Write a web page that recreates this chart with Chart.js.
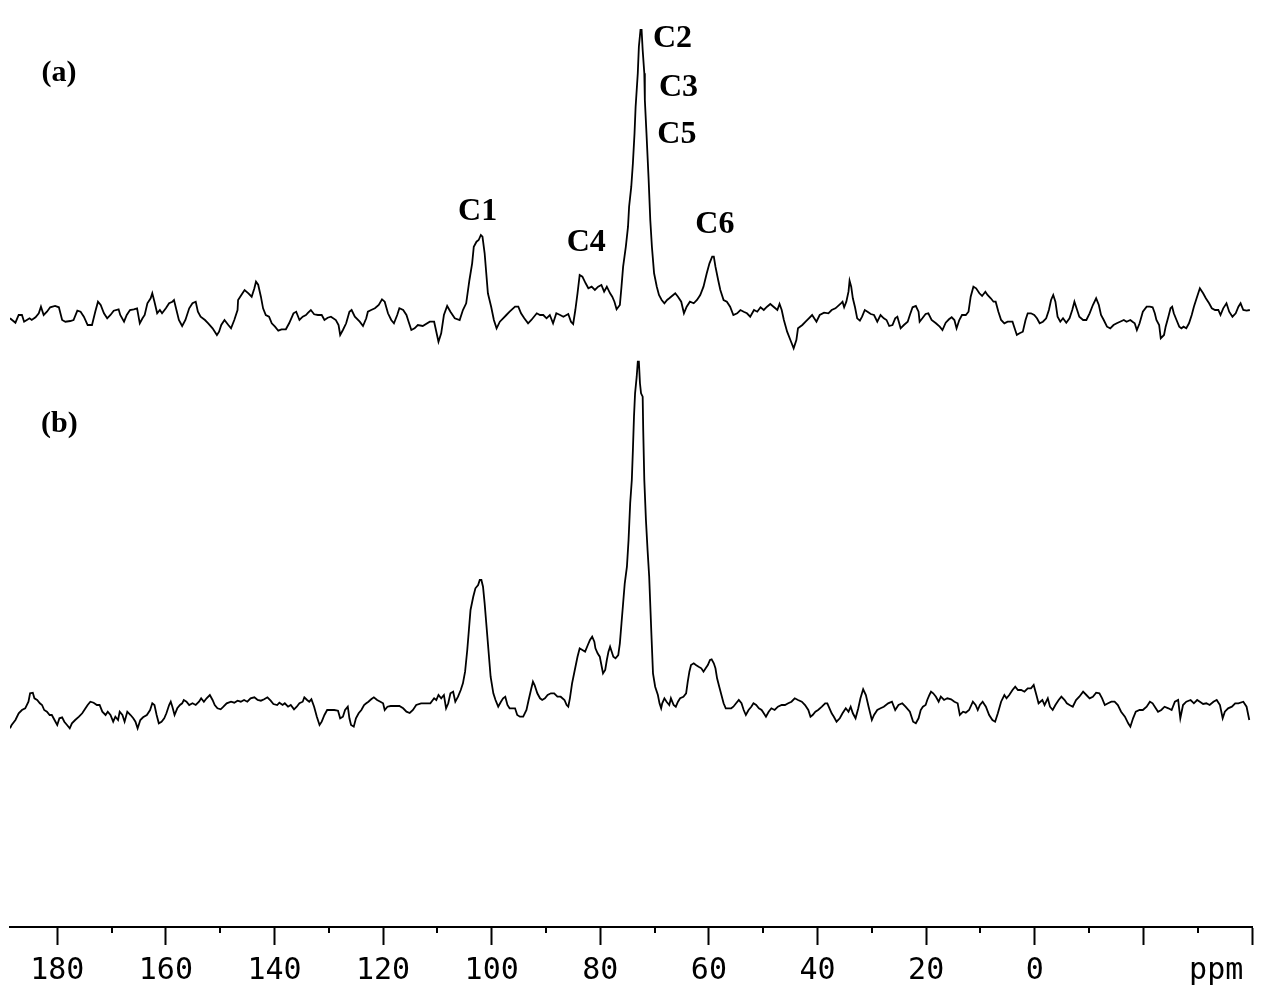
<!DOCTYPE html>
<html><head><meta charset="utf-8">
<script src="https://cdn.jsdelivr.net/npm/chart.js@4/dist/chart.umd.min.js"></script>
<style>html,body{margin:0;padding:0;background:#fff;}canvas{display:block;}</style>
</head><body>
<canvas id="c" width="1269" height="1000"></canvas>
<script>
// ---- Spectrum (a): chemical shift (ppm) and intensity (arb. units) ----
const aPpm = [188.7,187.7,187.1,186.5,186.1,185.6,185.1,184.7,184.0,183.4,183.0,182.5,181.9,181.3,180.4,179.7,179.1,178.5,177.6,177.0,176.3,175.7,175.1,174.4,173.6,173.0,172.5,172.0,171.4,170.8,170.2,169.6,168.7,168.4,167.7,167.2,166.6,165.9,165.3,164.8,164.3,163.9,163.4,162.8,162.5,162.1,161.6,161.1,160.7,160.0,159.4,158.8,158.5,158.2,157.6,157.0,156.4,155.7,155.1,154.5,154.1,153.6,152.8,152.2,151.4,150.6,150.2,149.8,149.2,148.5,148.0,147.4,146.8,146.7,146.1,145.5,144.8,144.2,143.7,143.4,143.0,142.5,142.1,141.6,141.0,140.5,139.9,139.3,138.7,137.9,137.3,136.5,136.0,135.4,134.8,134.2,133.8,133.3,132.7,132.0,131.3,130.8,130.2,129.6,128.7,128.2,127.9,127.4,126.8,126.2,125.8,125.2,124.3,123.7,123.1,122.8,122.2,121.5,120.8,120.2,119.7,119.1,118.5,118.0,117.4,117.0,116.3,115.7,115.3,114.8,114.2,113.6,112.7,111.4,
110.6,110.2,109.8,109.3,108.8,108.2,107.6,106.8,105.9,105.3,104.7,104.1,103.6,103.3,102.8,102.4,102.0,101.7,101.3,101.0,100.7,100.1,99.6,99.1,98.5,97.9,97.3,96.7,95.7,95.1,94.6,94.0,93.3,92.7,91.7,91.1,90.5,89.9,89.3,88.7,88.1,87.4,86.8,85.9,85.4,85.0,84.6,84.2,83.8,83.3,82.7,82.2,81.6,81.0,80.4,79.8,79.3,78.8,78.2,77.8,77.4,77.0,76.4,76.1,75.8,75.3,74.9,74.7,74.3,74.0,73.7,73.5,73.1,72.9,72.6,72.4,72.2,71.9,71.8,71.5,71.1,70.8,70.5,70.1,69.6,69.2,68.7,68.2,67.7,67.3,66.8,66.2,65.7,65.1,64.6,64.1,63.5,62.8,62.2,61.6,61.0,60.4,59.9,59.4,59.1,58.8,58.3,57.9,57.3,56.7,56.1,55.5,54.8,54.2,53.6,53.0,52.4,51.7,51.1,50.5,49.9,49.3,48.7,48.1,47.4,47.0,46.6,46.2,45.6,45.0,44.4,43.9,43.6,42.8,42.2,41.6,41.0,40.2,39.6,38.8,38.0,37.4,36.7,35.7,
35.4,35.1,34.7,34.3,34.1,33.8,33.5,33.1,32.7,32.2,31.8,31.3,30.8,30.2,29.6,29.0,28.4,27.8,27.3,26.8,26.2,25.7,25.3,24.7,24.1,23.4,23.0,22.5,21.9,21.4,21.2,20.7,20.1,19.6,19.0,18.2,17.5,17.0,16.4,15.8,15.3,14.8,14.4,13.9,13.4,12.7,12.2,11.8,11.3,10.8,10.2,9.7,9.1,8.7,8.1,7.6,7.2,6.7,6.2,5.6,5.0,4.1,3.8,3.3,2.8,2.2,1.7,1.3,0.7,0.1,-0.4,-0.9,-1.5,-2.1,-2.6,-3.0,-3.4,-3.8,-4.2,-4.7,-5.2,-5.8,-6.4,-6.9,-7.3,-7.8,-8.2,-8.9,-9.5,-10.1,-10.7,-11.3,-11.8,-12.2,-12.7,-13.3,-13.9,-14.5,-15.1,-15.7,-16.4,-16.9,-17.6,-18.0,-18.4,-18.8,-19.3,-19.9,-20.6,-21.2,-21.7,-22.1,-22.4,-22.9,-23.2,-23.8,-24.1,-24.6,-25.0,-25.3,-25.6,-26.1,-26.6,-27.0,-27.4,-27.9,-28.4,-28.9,-29.3,-29.8,-30.4,-31.0,-31.5,-32.1,-32.6,-33.2,-33.8,-34.2,-34.7,-35.3,-35.8,-36.4,-37.0,-37.5,-37.9,-38.4,-39.0,-39.6];
const aInt = [-0.3,-4.7,3,3,-3.7,-2,-0.3,-2,0.7,4.7,11.3,3,6.3,10.7,12,10.7,-2,-3.7,-3,-2,7.3,6.3,1.3,-7,-7,6.3,16.3,13,4.7,-0.3,3,7.3,8.7,3,-3.7,3,8,8.7,9.7,-5.3,-0.3,3,14.7,19.7,24.7,16.3,4.7,8,4.7,9.7,14.7,16.3,18,11.3,-2,-8,-2,9.7,14.7,16.3,6.3,1.3,-2,-5.3,-10.3,-17,-13.7,-7,-2,-7,-10.3,-2,8,18,23,28,24.7,21.3,29.7,36.3,33.3,21.3,9.7,3,1.3,-5.3,-8.7,-12.7,-11.3,-11.3,-5.3,4.7,6.3,-2,1.3,3,5.3,8,3.7,3,3,-2,0.3,1.3,-2,-7,-17,-12,-5.3,6.3,8,1.3,-3.7,-8,-0.3,6.3,8,9.7,13,18.7,16.3,4.7,-2,-5.3,3,9.7,8,3,-3.7,-12,-10.3,-7,-8,-3.7,
-3.7,-13.7,-23.7,-15.3,3,12,6.3,-0.3,-2,8,14.7,38,54.7,71.3,76.3,78,83,81.3,64.7,44.7,24.7,11.3,-2,-10.3,-3.7,-0.3,3,6.3,11.3,11.3,4.7,-0.3,-5.3,-2,4.7,3,3,-0.3,3,-5.3,4.7,3,1.3,4,-3.7,-6,8,24.7,43,41.3,34.7,29.7,31.3,28,31.3,33,26.3,31.3,24.7,21.3,16.3,8.7,13,31.3,51.3,71.3,91.3,111.3,131.3,154.7,184.7,211.3,244.7,271.3,288,288,268,244.7,218,184.7,138,98,71.3,44.7,31.3,23,18,14.7,18,19.7,22,24.7,21.3,16.3,4.7,11.3,16.3,14.7,18,23,31.3,44.7,54.7,61.3,61.3,51.3,38,28,18,16.3,11.3,3,4.7,8,6.3,4.7,1.3,8,6.3,10.7,8,11.3,14,11.3,8,14,8,-2,-13.7,-22,-30.3,-22,-10.3,-7,-3.7,-0.3,3,-3.7,3,5.3,4.7,8,9.7,14.7,
16.3,10.7,16.3,26.3,37.3,31.3,19.7,10.7,-0.3,-2.7,1.3,8,6.3,4,3,-3.7,3,-0.3,-2,-8,-7,-0.3,1.3,-10.3,-7,-3.7,3,10.7,12,6.3,-3.7,-0.3,4,4.7,-2,-5.3,-8.7,-12,-4.7,-1.3,0.7,-2,-10.3,-2,3,3,6.3,21.3,31.3,29.7,24.7,22,26.3,23,19.7,16.3,16.3,6.3,-2,-5.3,-3.7,-3.7,-8.7,-17,-15.3,-13.7,-2,4.7,4.7,3,-0.3,-5.3,-3.7,-0.3,8,18,23,16.3,1.3,-3.7,-0.3,-4.7,-0.3,8,16.3,8,1.3,-2,-2,4.7,13,19.7,13,3,-2,-8.7,-10.3,-7,-5.3,-3.7,-2,-3.7,-2,-3.7,-5.3,-12,-5.3,6.3,11.3,11.3,10.7,4.7,-2,-7,-20.3,-17,-8.7,1.3,9.7,11.3,4.7,-2,-8.7,-10.3,-8.7,-10.3,-5.3,3,11.3,19.7,29.7,24.7,19.7,14.7,9.7,8,8,3,9.7,14.7,6.3,1.3,4.7,11.3,14.7,8,7.3,8];

// ---- Spectrum (b) ----
const bPpm = [188.7,188.4,187.7,187.1,186.5,185.9,185.3,185.0,184.5,184.2,183.7,183.2,182.8,182.4,181.9,181.4,181.0,180.5,180.0,179.6,179.1,178.7,178.2,177.7,177.3,176.7,176.0,175.4,174.8,174.4,173.9,173.3,172.7,172.2,171.7,171.1,170.7,170.2,169.7,169.3,168.8,168.5,168.0,167.6,167.1,166.5,166.0,165.6,165.2,164.7,164.2,163.5,162.9,162.5,162.1,161.7,161.3,160.8,160.3,159.9,159.4,159.1,158.8,158.4,157.9,157.4,157.0,156.7,156.2,155.7,155.1,154.5,153.9,153.5,153.0,152.5,151.9,151.4,151.0,150.5,149.9,149.4,148.8,148.0,147.4,146.8,146.2,145.6,145.0,144.4,143.7,143.1,142.5,141.9,141.3,140.7,140.2,139.5,139.1,138.5,138.1,137.5,137.0,136.4,135.9,135.4,134.8,134.5,134.0,133.6,133.2,132.7,132.2,131.7,131.3,130.8,130.3,129.6,129.0,128.3,127.9,127.4,127.0,126.5,126.2,125.9,125.4,125.0,124.5,124.0,123.5,123.1,122.7,122.2,121.7,121.1,120.5,120.0,119.7,119.2,118.6,117.9,117.0,116.3,115.7,115.1,114.5,113.9,113.0,111.4,
111.3,110.6,110.2,109.8,109.3,108.8,108.4,108.0,107.6,107.1,106.7,106.2,105.7,105.3,104.9,104.5,104.2,103.9,103.4,103.0,102.5,102.2,101.9,101.6,101.3,101.0,100.6,100.2,99.7,99.3,98.8,98.3,97.9,97.5,97.1,96.7,96.2,95.7,95.3,94.8,94.2,93.6,93.2,92.7,92.4,92.1,91.6,91.1,90.7,90.2,89.7,89.1,88.5,87.9,87.3,86.6,86.2,85.9,85.6,85.2,84.7,84.2,83.8,83.3,82.8,82.3,81.9,81.5,81.1,80.9,80.5,80.1,79.8,79.5,79.1,78.8,78.5,78.2,77.9,77.6,77.2,76.7,76.4,76.1,75.8,75.5,75.1,74.8,74.5,74.2,74.0,73.8,73.6,73.3,73.1,72.9,72.7,72.5,72.2,72.1,71.9,71.6,71.3,71.0,70.6,70.3,69.9,69.4,69.1,68.8,68.6,68.2,67.8,67.3,67.0,66.5,66.1,65.7,65.3,64.7,64.2,63.9,63.6,63.3,62.8,62.4,61.9,61.4,61.0,60.6,60.2,59.8,59.5,59.1,58.8,58.5,58.1,57.7,57.3,56.9,56.4,55.9,55.5,55.0,54.5,54.0,53.6,53.2,52.7,52.2,51.8,51.3,50.8,50.3,49.9,49.5,49.0,48.5,47.9,47.3,46.6,46.0,45.4,44.8,44.2,43.6,42.9,42.3,41.7,41.3,40.9,40.4,39.9,39.2,38.6,38.2,37.8,37.4,37.0,36.5,35.9,
35.4,34.8,34.3,33.9,33.5,33.0,32.5,32.1,31.6,31.1,30.6,30.0,29.6,29.0,28.4,27.8,27.0,26.3,25.7,25.1,24.4,23.8,23.0,22.4,21.9,21.4,21.0,20.6,20.1,19.8,19.4,19.1,18.7,18.2,17.7,17.3,16.7,16.1,15.4,14.8,14.2,13.8,13.2,12.7,12.1,11.4,10.9,10.5,10.1,9.6,9.0,8.4,7.8,7.3,6.8,6.2,5.6,5.2,4.7,4.1,3.6,3.1,2.5,1.9,1.3,0.7,0.2,-0.3,-0.7,-1.4,-1.8,-2.4,-2.8,-3.3,-3.8,-4.4,-4.9,-5.5,-5.9,-6.4,-7.0,-7.6,-8.2,-8.9,-9.5,-10.1,-10.7,-11.3,-11.9,-12.4,-12.9,-13.5,-14.1,-14.7,-15.3,-15.9,-16.6,-17.2,-17.6,-18.1,-18.6,-19.3,-19.9,-20.6,-21.2,-21.7,-22.1,-22.7,-23.3,-23.9,-24.6,-25.2,-25.8,-26.4,-26.8,-27.3,-27.9,-28.7,-29.3,-29.9,-30.4,-31.0,-31.6,-32.2,-32.9,-33.5,-34.1,-34.6,-35.0,-35.6,-36.3,-36.9,-37.5,-38.4,-39.0,-39.5];
const bInt = [-23.3,-20,-15,-8.3,-5,-3.3,3.3,11.7,12.3,6.7,5,1.7,0,-5,-6.7,-10,-10,-15,-20,-13.3,-12.3,-16.7,-20,-23.3,-18.3,-15,-11.7,-8.3,-3.3,0,3.3,2.3,0,0,-6.7,-10,-6.7,-10,-16.7,-11.7,-15,-6.7,-10,-16.7,-6.7,-10,-13.3,-16.7,-23.3,-15,-12.3,-10,-5,1.7,0,-10,-18.3,-16.7,-13.3,-8.3,0,3.3,-1.7,-10,-3.3,0,1.7,5,3.3,0,1.7,0,3.3,6.7,3.3,6.7,10,5,0,-3.3,-4.3,-1.7,1.7,3.3,2.3,4.3,3.3,5,3.3,6.7,7.7,5,4.3,5.7,7.7,4.3,1,0,2.3,0,1.7,-1.7,0,-4.3,-1.7,1.7,3.3,7.7,5,3.3,5.7,-1.7,-11.7,-20,-16.7,-10,-5,-5,-5,-5.7,-13.3,-11.7,-5,-1.7,-13.3,-20,-21.7,-13.3,-8.3,-5,0,1.7,3.3,5.7,7.7,5,3.3,1.7,-5,-1.7,-1,-1,-1,-3.3,-6.7,-8,-5,0,1.7,1.7,
1.7,6.7,5,10,6.7,10,-3.3,1.7,11.7,13.3,3.3,8.3,15,21.7,33.3,55,75,95,108.3,116.7,120,125,125,118.3,101.7,81.7,55,28.3,11.7,5,-1.7,3.3,6.7,8.3,0,-3.3,-3.3,-3.3,-10,-11.7,-11.7,-5,5,16.7,23.3,20,11.7,6.7,5,6.7,10,11.7,11.7,8.3,8.3,5,0,-1.7,6.7,21.7,35,48.3,56.7,55,53.3,60,65,68.3,63.3,56.7,51.7,48.3,40,31.7,35,45,53.3,58.3,53.3,48.3,46.7,50,61.7,81.7,101.7,121.7,138.3,165,201.7,225,255,288.3,311.7,328.3,343.3,343.3,321.7,311.7,308.3,275,225,185,155,128.3,71.7,31.7,18.3,10,1.7,-3.3,1.7,6.7,3.3,0,6.7,0,-1.7,3.3,6.7,8.3,11.7,23.3,33.3,40,41.7,40,38.3,36.7,33.3,36.7,40,45,45.7,41.7,36.7,26.7,18.3,10,1.7,-3.3,-3.3,-3.3,-1.7,1.7,5,1.7,-5,-10,-5,-1.7,1.7,0,-3.3,-5,-8.3,-11.7,-6.7,-3.3,-5,-1.7,0,0,1.7,3.3,6.7,5,3.3,0,-5,-11.7,-10,-6.7,-5,-1.7,1.7,1.7,-3.3,-8.3,-11.7,-16.7,-13.3,
-8.3,-3.3,-6.7,-1.7,-8.3,-13.3,-3.3,6.7,15.7,10,-1.7,-15,-10,-5,-3.3,-1.7,1.7,3.3,-5,0,1.7,-1.7,-6.7,-16.7,-18.3,-13.3,-5,-1.7,0,5,10,13.3,11.7,8.3,3.3,8.3,5,6.7,5.7,3.3,1.7,-10,-6.7,-7.7,-5,3.3,0,-5,0,3.3,-1.7,-10,-15,-16.7,-8.3,3.3,10,6.7,10,15,18.3,15,15,13.3,16.7,16.7,20,10,1.7,5,0,6.7,-1.7,-5,0,5,8.3,5,1.7,0,-1.7,5,8.3,13.3,10,6.7,8.3,12.3,11.7,6.7,0,1.7,3.3,3.3,0,-6.7,-11.7,-18.3,-21.7,-13.3,-6.7,-5,-5,-1.7,3.3,1.7,-1.7,-6.7,-5,-1.7,-3.3,-5,3.3,5,-13.3,0,3.3,5,1.7,5,3.3,1,1.7,0,3.3,5,0,-13.3,-6.7,-3.3,-1.7,1.7,1.7,3.3,-1.7,-15];

// ---- Axis ticks / labels ----
const majorTicks = [180,160,140,120,100,80,60,40,20,0,-20,-40];
const labelledTicks = [180,160,140,120,100,80,60,40,20,0];
const minorTicks = [170,150,130,110,90,70,50,30,10,-10,-30];
const axisUnit = 'ppm';
const axisUnitPpm = -33.4;

// ---- Annotations (text, ppm, intensity, spectrum) ----
const annText = ['C1','C4','C2','C3','C5','C6','(a)','(b)'];
const annPpm  = [102.6,82.6,66.7,65.6,65.9,58.9,179.7,179.6];
const annInt  = [106,75,279,230,183,93,245,281];
const annAxis = ['ya','ya','ya','ya','ya','ya','ya','yb'];

const toPts = (xs, ys) => xs.map((x, i) => ({x: x, y: ys[i]}));

const overlay = {
  id: 'overlay',
  afterDraw(chart) {
    const ctx = chart.ctx, sx = chart.scales.x;
    ctx.save();
    ctx.strokeStyle = '#000';
    ctx.lineWidth = 2;
    minorTicks.forEach(v => {
      const px = Math.round(sx.getPixelForValue(v));
      ctx.beginPath(); ctx.moveTo(px, sx.top); ctx.lineTo(px, sx.top + 6); ctx.stroke();
    });
    ctx.fillStyle = '#000';
    ctx.font = '30px "DejaVu Sans Mono"';
    ctx.textAlign = 'center'; ctx.textBaseline = 'middle';
    ctx.fillText(axisUnit, sx.getPixelForValue(axisUnitPpm), sx.top + 18 + 8 + 18);
    annText.forEach((t, i) => {
      const ys = chart.scales[annAxis[i]];
      ctx.font = (t.startsWith('(') ? 'bold 30px' : 'bold 32px') + ' "Liberation Serif"';
      ctx.fillText(t, sx.getPixelForValue(annPpm[i]), ys.getPixelForValue(annInt[i]));
    });
    ctx.restore();
  }
};

new Chart(document.getElementById('c'), {
  type: 'line',
  data: {
    datasets: [
      {label: '(a)', data: toPts(aPpm, aInt), yAxisID: 'ya', borderColor: '#000', borderWidth: 1.8, pointRadius: 0, tension: 0, fill: false},
      {label: '(b)', data: toPts(bPpm, bInt), yAxisID: 'yb', borderColor: '#000', borderWidth: 1.8, pointRadius: 0, tension: 0, fill: false}
    ]
  },
  options: {
    responsive: false,
    animation: false,
    parsing: true,
    layout: {padding: {left: 10, right: 17, top: 0, bottom: 3}},
    plugins: {legend: {display: false}, tooltip: {enabled: false}},
    scales: {
      x: {
        type: 'linear', reverse: true, min: -40, max: 188.7,
        afterBuildTicks: (s) => { s.ticks = majorTicks.map(v => ({value: v})); },
        ticks: {
          autoSkip: false, maxRotation: 0, padding: 8, color: '#000',
          font: {family: 'DejaVu Sans Mono', size: 30, lineHeight: 1.2},
          callback: (v) => labelledTicks.includes(v) ? String(v) : ''
        },
        grid: {display: true, drawOnChartArea: false, drawTicks: true, tickLength: 18, tickWidth: 2, tickColor: '#000'},
        border: {display: true, color: '#000', width: 2}
      },
      ya: {type: 'linear', display: false, min: -609, max: 318},
      yb: {type: 'linear', display: false, min: -222, max: 705}
    }
  },
  plugins: [overlay]
});
</script>
</body></html>
